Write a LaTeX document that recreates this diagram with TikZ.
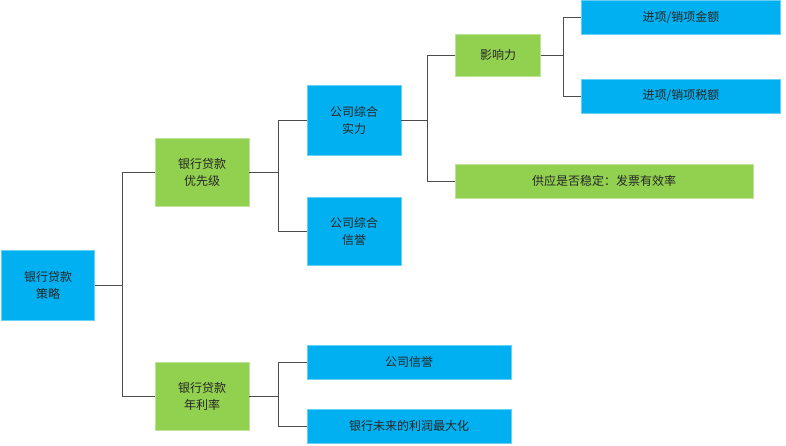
\documentclass[tikz,border=0pt]{standalone}
\usepackage{fontspec}
\newfontfamily\cjk{Noto Sans CJK SC}
\definecolor{boxblue}{HTML}{00B0F0}
\definecolor{boxgreen}{HTML}{92D050}
\tikzset{
  blue box/.style={fill=boxblue, draw=boxblue!60!white, inner sep=0pt, align=center, font=\cjk\fontsize{12}{17}\selectfont, text=black!85},
  green box/.style={blue box, fill=boxgreen, draw=boxgreen!60!white},
  elbow/.style={draw=black!70, line width=0.9pt}
}
\begin{document}
\begin{tikzpicture}[x=1pt,y=-1pt]
  \useasboundingbox (0,0) rectangle (786,445);

  % level 0 and 1
  \node[blue box, minimum width=93pt, minimum height=70pt] (root) at (48,285) {银行贷款\\策略};
  \node[green box, minimum width=94pt, minimum height=68pt] (prio) at (202,172) {银行贷款\\优先级};
  \node[green box, minimum width=94pt, minimum height=68pt] (rate) at (202,396) {银行贷款\\年利率};

  % level 2
  \node[blue box, minimum width=94pt, minimum height=70pt] (power) at (354,120) {公司综合\\实力};
  \node[blue box, minimum width=94pt, minimum height=68pt] (credit) at (354,231) {公司综合\\信誉};
  \node[blue box, minimum width=204pt, minimum height=34pt] (rep) at (409,362) {公司信誉};
  \node[blue box, minimum width=204pt, minimum height=34pt] (profit) at (409,426) {银行未来的利润最大化};

  % level 3 and 4
  \node[green box, minimum width=85pt, minimum height=42pt] (infl) at (498,55) {影响力};
  \node[green box, minimum width=298pt, minimum height=34pt] (supply) at (604,181) {供应是否稳定：发票有效率};
  \node[blue box, minimum width=199pt, minimum height=34pt] (amount) at (681,17) {进项/销项金额};
  \node[blue box, minimum width=199pt, minimum height=34pt] (tax) at (681,96) {进项/销项税额};

  % connectors
  \draw[elbow] (root.east) -- (122,285) |- (prio.west);
  \draw[elbow] (122,285) |- (rate.west);
  \draw[elbow] (prio.east) -- (278,172) |- (power.west);
  \draw[elbow] (278,172) |- (credit.west);
  \draw[elbow] (rate.east) -- (278,396) |- (rep.west);
  \draw[elbow] (278,396) |- (profit.west);
  \draw[elbow] (power.east) -- (427,120) |- (infl.west);
  \draw[elbow] (427,120) |- (supply.west);
  \draw[elbow] (infl.east) -- (563,55) |- (amount.west);
  \draw[elbow] (563,55) |- (tax.west);
\end{tikzpicture}
\end{document}
